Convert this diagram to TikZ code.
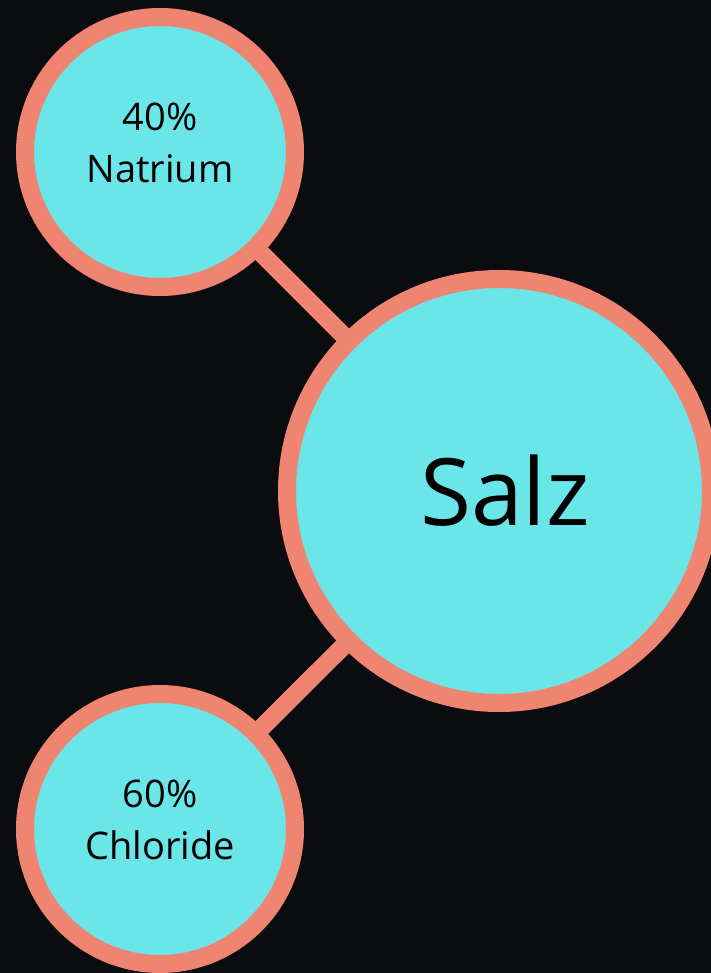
\documentclass[tikz,border=0pt]{standalone}
\usepackage{fontspec}
\setmainfont{Open Sans}
\usetikzlibrary{backgrounds}
\definecolor{SaltBack}{HTML}{0B0C10}
\definecolor{SaltCyan}{HTML}{6BE6E8}
\definecolor{SaltCoral}{HTML}{EF8470}

\tikzset{
  atom/.style={draw=SaltCoral, line width=18pt, circle, fill=SaltCyan, inner sep=0pt, align=center},
  bond/.style={draw=SaltCoral, line width=18pt}
}

\begin{document}
\begin{tikzpicture}[x=1pt, y=-1pt]
            \useasboundingbox (0,0) rectangle (711,973);

            % Center node
            \node[atom, minimum size=424pt, font=\fontsize{93}{100}\selectfont] (salz) at (499,491) {\hspace{12pt}Salz};

            % Surrounding nodes
            \node[atom, minimum size=270pt, font=\fontsize{38}{52}\selectfont] (natrium) at (160,152) {40\%\\Natrium\\[-33pt]\mbox{}};
            \node[atom, minimum size=270pt, font=\fontsize{38}{52}\selectfont] (chlorid) at (160,829) {60\%\\Chloride\\[-33pt]\mbox{}};

            % Lines
            \begin{pgfonlayer}{background}
            \fill[SaltBack] (0,0) rectangle (711,973);
            \draw[bond] (natrium.center) -- (salz.center);
            \draw[bond] (chlorid.center) -- (salz.center);
            \end{pgfonlayer}
        \end{tikzpicture}
\end{document}
